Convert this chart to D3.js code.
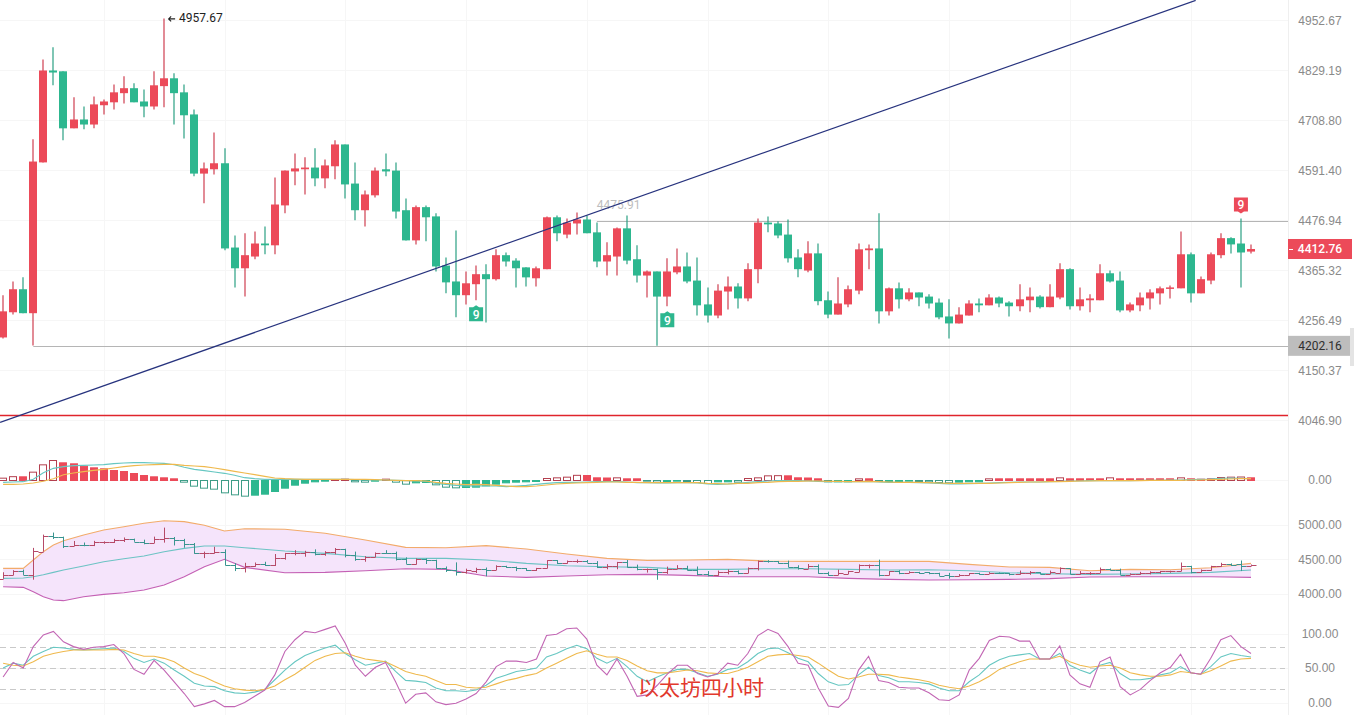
<!DOCTYPE html>
<html lang="zh">
<head>
<meta charset="UTF-8">
<title>以太坊四小时</title>
<script src="https://d3js.org/d3.v7.min.js"></script>
<style>
  body { margin: 0; background: #fff; }
  svg { display: block; font-family: Roboto, Arial, sans-serif; }
  .axis text { fill: #8a8a8a; font-size: 12px; text-anchor: middle; }
  .axis path, .axis line { display: none; }
</style>
</head>
<body>
<svg id="chart" width="1354" height="715"></svg>
<script>
// --- OHLC, one entry per 4h candle ---
const opens = [
  4220,4274,4324,4272,4610,4829,4827,4690,4711,4699,
  4745,4752,4774,4786,4754,4742,4791,4810,4776,4723,
  4584,4594,4608,4416,4370,4396,4425,4421,4511,4589,
  4594,4598,4573,4601,4652,4561,4500,4534,4594,4591,
  4500,4432,4507,4486,4376,4341,4311,4335,4357,4346,
  4399,4387,4372,4348,4368,4484,4445,4470,4479,4450,
  4385,4396,4459,4390,4354,4363,4308,4361,4374,4343,
  4291,4267,4319,4330,4304,4368,4472,4470,4445,4394,
  4365,4403,4300,4269,4291,4321,4410,4414,4276,4326,
  4302,4317,4308,4295,4265,4250,4267,4293,4289,4306,
  4295,4287,4300,4308,4285,4306,4368,4287,4300,4300,
  4359,4343,4278,4289,4304,4315,4326,4326,4401,4315,
  4343,4399,4437,4425,4407
];
const highs = [
  4311,4341,4350,4664,4856,4886,4827,4764,4742,4766,
  4759,4795,4815,4798,4783,4827,4957.67,4822,4795,4735,
  4610,4680,4643,4443,4448,4452,4463,4575,4591,4631,
  4622,4643,4617,4662,4652,4610,4545,4598,4631,4610,
  4527,4511,4511,4493,4394,4454,4363,4376,4379,4412,
  4405,4392,4372,4374,4486,4488,4481,4495,4488,4472,
  4428,4461,4488,4421,4365,4363,4392,4414,4405,4394,
  4328,4335,4352,4337,4381,4481,4486,4475,4479,4412,
  4430,4425,4319,4350,4332,4425,4423,4493,4328,4339,
  4326,4317,4313,4304,4302,4285,4300,4304,4313,4308,
  4298,4335,4328,4311,4335,4381,4370,4328,4313,4379,
  4365,4363,4295,4317,4324,4330,4332,4452,4405,4352,
  4405,4448,4439,4481,4423
];
const lows = [
  4218,4269,4272,4203,4610,4793,4662,4690,4688,4690,
  4723,4735,4749,4752,4716,4735,4740,4699,4666,4578,
  4516,4582,4410,4328,4308,4390,4401,4401,4493,4557,
  4536,4555,4550,4571,4527,4477,4463,4529,4578,4481,
  4432,4423,4430,4363,4315,4263,4291,4300,4252,4343,
  4374,4328,4330,4330,4368,4430,4437,4445,4448,4372,
  4354,4354,4379,4339,4306,4202.16,4287,4357,4337,4267,
  4252,4261,4280,4282,4298,4337,4450,4437,4383,4350,
  4361,4289,4261,4269,4285,4313,4368,4250,4267,4282,
  4298,4287,4282,4259,4218,4250,4267,4274,4289,4285,
  4265,4276,4274,4282,4285,4302,4280,4278,4274,4300,
  4339,4274,4274,4276,4280,4291,4304,4326,4295,4315,
  4335,4392,4403,4328,4403
];
const closes = [
  4276,4324,4272,4612,4829,4824,4690,4711,4699,4747,
  4754,4776,4786,4752,4742,4793,4810,4774,4721,4584,
  4596,4608,4414,4370,4399,4425,4421,4513,4591,4596,
  4598,4573,4603,4652,4559,4500,4536,4591,4589,4497,
  4432,4507,4484,4374,4339,4311,4337,4357,4346,4399,
  4385,4370,4350,4370,4484,4448,4472,4479,4448,4385,
  4399,4459,4387,4354,4363,4308,4363,4374,4341,4289,
  4267,4321,4330,4304,4368,4472,4468,4443,4392,4368,
  4403,4298,4269,4293,4324,4412,4414,4276,4326,4302,
  4317,4306,4293,4263,4250,4269,4293,4289,4306,4293,
  4287,4302,4308,4285,4308,4368,4287,4302,4304,4359,
  4341,4278,4291,4306,4317,4326,4328,4401,4315,4346,
  4401,4437,4423,4405,4412.76
];

// --- MACD ---
const macdHist = [
  7,11.5,11,25,47,60,53,50,43,38,
  35,30,27,21,15,11,8,5,-5,-17,
  -23,-26,-37,-43,-47,-44,-41,-33,-23,-14,
  -8,-4,-2,3,4,-4,-5,-2,4,-5,
  -11,-7,-6,-13,-20,-22,-21,-20,-16,-11,
  -7,-5,-4,-3,6,8,10,15.5,15,8,
  7.5,8,5,5,-2,-5,-5,-2,-3,-6,
  -9,-4,-4,-5,6,8,14,14.5,14,8,
  7.5,5,-4,-4,-4,5,5,-3,-3,-3,
  -2,-3,-4,-6,-7,-5,-4,-4,5,5,
  5,5,5,5,5,8,5,5,5,5,
  8,5,5,5,5,5,5,8,5,4,
  5,9,10,10.5,8
];
const macdDif = [
  -7,-6,-5,2,22,35,40,43,44,45,
  46,49,51,52,52,51,50,46,38,32,
  28,24,20,14,7,4,2,2,2,2,
  2,2,2,2,2,1,0,0,0,-1,
  -2,-3,-4,-10,-13,-16,-18,-17,-18,-18,
  -20,-18,-16,-13,-10,-8,-7,-7,-6,-5,
  -5,-5,-6,-8,-8,-9,-9,-8,-8,-9,
  -12,-13,-12,-10,-7,-5,-3,-2,-2,-2,
  -3,-4,-5,-5,-5,-5,-4,-6,-7,-7,
  -7,-8,-9,-10,-12,-12,-11,-10,-9,-8,
  -7,-6,-6,-6,-5,-4,-3,-3,-2,-2,
  -2,-2,-2,-1,-1,-1,0,0,1,2,
  3,5,6,5,4
];
const macdDea = [
  -13,-13,-12,-9,-4,4,16,21,25,29,
  32,36,40,43,45,46,47,47,44,42,
  40,36,31,26,21,16,11,6,4,3,
  2,2,2,2,2,2,2,1,0,-1,
  -2,-2,-3,-7,-10,-12,-14,-13,-14,-16,
  -18,-20,-20,-18,-15,-12,-10,-9,-8,-7,
  -6,-6,-7,-7,-8,-8,-8,-8,-8,-8,
  -10,-11,-12,-10,-10,-8,-7,-5,-4,-4,
  -3,-3,-4,-4,-5,-5,-4,-5,-6,-7,
  -7,-7,-8,-9,-10,-10,-10,-10,-10,-9,
  -8,-7,-6,-6,-5,-5,-4,-3,-3,-2,
  -2,-2,-2,-2,-1,-1,-1,-1,0,0,
  1,2,3,4,4
];

// --- Bollinger bands, read at these candles only ---
const bollIdx = [0,2,3,4,5,6,8,10,12,14,16,18,20,22,24,28,32,36,40,44,48,52,56,60,64,68,72,76,80,84,88,92,96,100,104,108,112,116,120,124];
const bollUpper = [4367,4367,4488,4609,4706,4768,4851,4923,4971,5020,5058,5044,4991,4909,4942,4933,4875,4778,4672,4667,4696,4648,4575,4512,4483,4488,4498,4474,4469,4469,4469,4469,4425,4387,4382,4333,4353,4348,4377,4440];
const bollMid = [4222,4227,4246,4275,4309,4343,4401,4464,4507,4546,4609,4657,4691,4691,4667,4619,4585,4536,4512,4512,4488,4440,4406,4391,4382,4353,4353,4362,4362,4353,4343,4348,4333,4304,4290,4280,4285,4295,4309,4343];
const bollLower = [4101,4092,4029,3956,3908,3899,3956,3990,4014,4053,4126,4246,4391,4498,4382,4304,4309,4333,4362,4353,4256,4237,4256,4275,4280,4266,4246,4246,4246,4222,4208,4198,4203,4208,4218,4242,4246,4246,4246,4237];

// --- KDJ ---
const kdjK = [
  50,57,54,67,74,80,79,77,76,77,
  78,79,74,64,58,63,57,47,38,28,
  24,23,17,14,13,15,19,33,47,59,
  68,74,79,83,71,62,54,57,60,45,
  32,31,29,21,17,17,16,18,25,35,
  40,45,47,50,66,71,78,83,78,64,
  57,64,52,38,30,37,43,48,48,43,
  38,41,48,50,59,71,78,79,72,64,
  59,42,30,25,26,40,51,39,36,30,
  30,29,27,21,17,17,30,40,54,62,
  67,69,71,63,63,71,54,47,42,54,
  58,42,33,33,35,40,43,52,43,41,
  52,66,71,68,66
];
const kdjD = [
  57,54,53,59,67,71,74,76,76,76,
  76,77,76,71,67,67,64,59,50,42,
  37,30,24,20,18,17,19,24,33,41,
  51,61,67,71,72,67,63,61,59,52,
  45,41,38,32,26,26,22,21,22,27,
  32,35,39,42,50,57,64,71,75,70,
  66,66,61,53,46,43,43,45,47,46,
  43,42,42,46,51,59,67,69,70,68,
  66,57,47,38,34,37,41,41,40,37,
  35,33,30,25,22,20,24,30,38,48,
  54,59,63,63,63,67,59,54,51,53,
  54,50,43,40,38,38,40,45,43,41,
  46,53,60,63,64
];
const kdjJ = [
  37,58,50,81,98,103,88,81,77,80,
  81,84,71,48,41,61,47,30,13,-6,
  -2,3,-6,-6,0,9,18,40,74,91,
  103,101,106,111,86,54,38,51,58,30,
  -1,12,14,1,-3,-1,5,13,30,52,
  60,60,58,63,97,99,107,108,92,54,
  40,63,38,9,11,25,41,54,54,42,
  37,42,57,54,71,97,106,100,81,57,
  54,21,-5,-7,6,47,67,32,29,22,
  21,21,14,4,3,11,47,64,90,96,
  95,89,89,63,63,82,40,27,22,59,
  66,23,11,19,32,43,51,70,43,41,
  64,91,97,81,71
];

// --- Axis ticks and drawn levels ---
const priceTicks = [4952.67,4829.19,4708.80,4591.40,4476.94,4365.32,4256.49,4150.37,4046.90];
const macdTicks = [0];
const bollTicks = [5000,4500,4000];
const kdjTicks = [100,50,0];
const kdjLevels = [80,50,20];
const maxPrice = 4957.67;
const minPrice = 4202.16;
const resistance = 4475.91;
const lastPrice = 4412.76;
const redLevel = 4057;
const trendIdx = [-0.3,118.5];
const trendPrice = [4043,5003];
const sequentialLow = [47,66];
const sequentialHigh = [123];

const RED = '#ec4a59';
const GREEN = '#2db78f';
const RED_EDGE = '#cf3f50';
const GREEN_EDGE = '#2aa083';
const RIGHT = 1288;

const svg = d3.select('#chart');
const idx = d3.range(closes.length);

// Shared x, one 4h step is ~10 px
const x = d3.scaleLinear().domain([0, 124]).range([3.1, 1251]);
const yPrice = d3.scaleLog().domain([4952.67, 4046.90]).range([20.4, 420.4]);
const yMacd = d3.scaleLinear().domain([60, -60]).range([460, 500]);
const yBoll = d3.scaleLinear().domain([5000, 4000]).range([524.7, 593.7]);
const yKdj = d3.scaleLinear().domain([100, 0]).range([633.5, 702.5]);

// Snap to the pixel grid so 1px strokes stay sharp
const snap = v => Math.round(v) + 0.5;
const up = i => closes[i] >= opens[i];
const colorOf = i => up(i) ? RED : GREEN;
const edgeOf = i => up(i) ? RED_EDGE : GREEN_EDGE;

// Faint grid
const grid = svg.append('g').attr('stroke', '#f6f6f6');
grid.selectAll('.v').data(d3.range(10, 125, 12)).join('line')
  .attr('x1', d => snap(x(d))).attr('x2', d => snap(x(d))).attr('y1', 0).attr('y2', 715);
const hLines = [
  ...priceTicks.map(d => yPrice(d)), ...macdTicks.map(d => yMacd(d)),
  ...bollTicks.map(d => yBoll(d)), ...kdjTicks.map(d => yKdj(d))
];
grid.selectAll('.h').data(hLines).join('line')
  .attr('x1', 0).attr('x2', RIGHT).attr('y1', d => snap(d)).attr('y2', d => snap(d));
grid.append('line').attr('x1', RIGHT + 0.5).attr('x2', RIGHT + 0.5).attr('y1', 0).attr('y2', 715).attr('stroke', '#efefef');

// Price panel levels
const level = (v, from, color, width = 1) => svg.append('line')
  .attr('x1', from).attr('x2', RIGHT)
  .attr('y1', snap(yPrice(v))).attr('y2', snap(yPrice(v)))
  .attr('stroke', color).attr('stroke-width', width);
level(minPrice, x(3), '#b5b5b5');
level(resistance, x(59), '#b5b5b5');
level(redLevel, 0, '#e0242c', 1.4);

svg.append('text').attr('x', x(59)).attr('y', yPrice(resistance) - 12)
  .attr('fill', '#bdbdbd').attr('font-size', 12).text(resistance.toFixed(2));

// Candles
const candles = svg.append('g').selectAll('g').data(idx).join('g');
candles.append('line')
  .attr('stroke', edgeOf)
  .attr('x1', d => snap(x(d)) - 0.5).attr('x2', d => snap(x(d)) - 0.5)
  .attr('y1', d => yPrice(highs[d])).attr('y2', d => yPrice(lows[d]))
  .attr('stroke-width', 1.2);
candles.append('rect')
  .attr('fill', colorOf)
  .attr('x', d => Math.round(x(d)) - 4).attr('width', 8)
  .attr('y', d => yPrice(Math.max(opens[d], closes[d])))
  .attr('height', d => Math.max(1.5, Math.abs(yPrice(opens[d]) - yPrice(closes[d]))));

// Trend line
svg.append('line')
  .attr('x1', x(trendIdx[0])).attr('y1', yPrice(trendPrice[0]))
  .attr('x2', x(trendIdx[1])).attr('y2', yPrice(trendPrice[1]))
  .attr('stroke', '#27337e').attr('stroke-width', 1.2);

// Highest price note
const hi = idx.find(i => highs[i] === maxPrice);
const hx = x(hi), hy = yPrice(maxPrice) + 0.5;
svg.append('path')
  .attr('d', `M${hx + 11},${hy}H${hx + 4.5}M${hx + 7},${hy - 2.5}L${hx + 4.5},${hy}L${hx + 7},${hy + 2.5}`)
  .attr('fill', 'none').attr('stroke', '#222').attr('stroke-width', 1.1);
svg.append('text').attr('x', hx + 15).attr('y', hy + 3.5)
  .attr('fill', '#222').attr('font-size', 12).text(maxPrice.toFixed(2));

// TD sequential "9" badges
const badge = (i, below) => {
  const cx = x(i), w = 7, h = 14;
  const tip = below ? yPrice(lows[i]) + 5 : yPrice(highs[i]) - 5;
  const dir = below ? 1 : -1;
  const a = tip + dir * 2, b = a + dir * h;
  svg.append('path')
    .attr('d', `M${cx},${tip}L${cx + 3},${a}L${cx + w},${a}L${cx + w},${b}L${cx - w},${b}L${cx - w},${a}L${cx - 3},${a}Z`)
    .attr('fill', below ? GREEN : RED);
  svg.append('text').attr('x', cx).attr('y', (a + b) / 2 + 4.5)
    .attr('text-anchor', 'middle').attr('fill', '#fff').attr('font-size', 12).attr('font-weight', 500).text('9');
};
sequentialLow.forEach(i => badge(i, true));
sequentialHigh.forEach(i => badge(i, false));

// MACD histogram, hollow while the bar is growing
const isHollow = i => {
  const v = macdHist[i], prev = i ? macdHist[i - 1] : 0;
  return v > 0 ? v > prev : v < prev;
};
const histColor = i => macdHist[i] >= 0 ? RED : GREEN;
const histEdge = i => !isHollow(i) ? histColor(i) : (macdHist[i] >= 0 ? '#b4404f' : '#3c9c86');
svg.append('g').selectAll('rect').data(idx).join('rect')
  .attr('x', d => Math.round(x(d)) - 3.5).attr('width', 7)
  .attr('y', d => Math.min(yMacd(macdHist[d]), yMacd(0)) + 0.5)
  .attr('height', d => Math.abs(yMacd(macdHist[d]) - yMacd(0)))
  .attr('fill', d => isHollow(d) ? '#fff' : histColor(d))
  .attr('stroke', histEdge);

const drawLine = (g, xs, ys, scale, color, width = 1.1) => g.append('path')
  .datum(xs)
  .attr('fill', 'none').attr('stroke', color).attr('stroke-width', width)
  .attr('d', d3.line().x(d => x(d)).y((d, i) => scale(ys[i])));

drawLine(svg, idx, macdDif, yMacd, '#67c7c2');
drawLine(svg, idx, macdDea, yMacd, '#efb94d');

// Bollinger panel with OHLC bars
svg.append('path').datum(bollIdx)
  .attr('fill', '#f5e4fb')
  .attr('d', d3.area().x(d => x(d)).y0((d, i) => yBoll(bollLower[i])).y1((d, i) => yBoll(bollUpper[i])));
drawLine(svg, bollIdx, bollUpper, yBoll, '#f2ab6b');
drawLine(svg, bollIdx, bollLower, yBoll, '#c460b4');
drawLine(svg, bollIdx, bollMid, yBoll, '#6cc3c4');

svg.append('g').selectAll('path').data(idx).join('path')
  .attr('fill', 'none')
  .attr('stroke', d => up(d) ? '#b64a68' : '#3a9590')
  .attr('d', d => {
    const c = snap(x(d));
    return `M${c},${yBoll(highs[d])}V${yBoll(lows[d])}M${c - 5},${snap(yBoll(opens[d]))}H${c}M${c},${snap(yBoll(closes[d]))}H${c + 5}`;
  });

// KDJ panel
svg.append('g').selectAll('line').data(kdjLevels).join('line')
  .attr('x1', 0).attr('x2', 1285)
  .attr('y1', d => snap(yKdj(d))).attr('y2', d => snap(yKdj(d)))
  .attr('stroke', '#c9c9c9').attr('stroke-dasharray', '6 4');
drawLine(svg, idx, kdjK, yKdj, '#67c7c2');
drawLine(svg, idx, kdjD, yKdj, '#efb94d');
drawLine(svg, idx, kdjJ, yKdj, '#c266b4');

// Right axes
const addAxis = (scale, ticks) => svg.append('g').attr('class', 'axis')
  .attr('transform', 'translate(1320,0)')
  .call(d3.axisRight(scale).tickValues(ticks).tickSize(0).tickPadding(0).tickFormat(d3.format('.2f')));
addAxis(yPrice, priceTicks);
addAxis(yMacd, macdTicks);
addAxis(yBoll, bollTicks);
addAxis(yKdj, kdjTicks);

// Price tags on the axis
const tag = (v, width, fill, color, weight) => {
  const cy = yPrice(v);
  svg.append('rect').attr('x', RIGHT).attr('y', cy - 10).attr('width', width).attr('height', 20).attr('fill', fill);
  svg.append('text').attr('x', 1320).attr('y', cy + 4.3)
    .attr('text-anchor', 'middle').attr('fill', color).attr('font-size', 12).attr('font-weight', weight)
    .text(v.toFixed(2));
};
tag(lastPrice, 64, RED, '#fff', 500);
svg.append('line').attr('x1', RIGHT + 1).attr('x2', RIGHT + 5)
  .attr('y1', yPrice(lastPrice) + 0.5).attr('y2', yPrice(lastPrice) + 0.5).attr('stroke', '#fff');
tag(minPrice, 62, '#bdbdbd', '#2f2f2f', 400);
svg.append('rect').attr('x', 1350).attr('y', 328).attr('width', 4).attr('height', 38).attr('fill', '#e4e4e4');

// Overlaid caption
svg.append('text').attr('x', 701).attr('y', 695)
  .attr('text-anchor', 'middle').attr('fill', '#e2382c')
  .attr('font-family', '"Noto Sans CJK SC", sans-serif').attr('font-size', 21)
  .text('以太坊四小时');
</script>
</body>
</html>
